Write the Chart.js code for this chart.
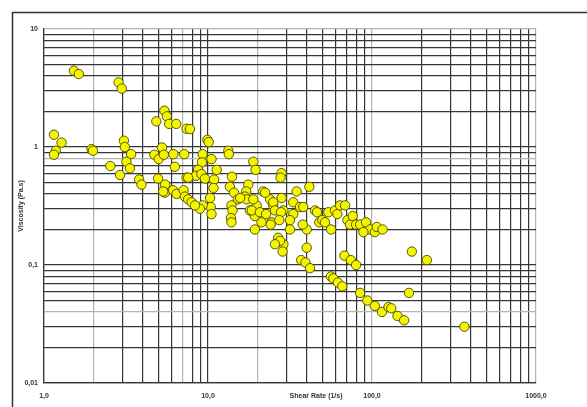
<!DOCTYPE html>
<html>
<head>
<meta charset="utf-8">
<script src="https://cdn.jsdelivr.net/npm/chart.js@4.4.1/dist/chart.umd.min.js"></script>
<style>
  html, body { margin: 0; padding: 0; background: #ffffff; }
  #wrap { position: relative; width: 587px; height: 407px; }
  canvas { display: block; }
</style>
</head>
<body>
<div id="wrap"><canvas id="c" width="587" height="407"></canvas></div>
<script>
// ---- Data ----
const shearRate = [
  1.52, 1.63, 2.85, 2.98, 5.42, 5.61, 4.84, 5.80, 6.40, 7.40, 7.76,
  1.15, 1.28, 1.18, 1.15, 1.95, 1.99, 3.07, 3.11, 3.40, 3.18, 3.34,
  2.54, 2.91, 3.80, 3.93, 5.25, 4.71, 5.01, 5.38, 6.15, 6.28, 7.16,
  4.96, 5.48, 7.40, 9.92, 10.1, 9.27, 10.5, 9.18, 8.71, 11.3, 8.44,
  9.11, 9.57, 7.57, 10.9, 10.8, 10.3, 10.4, 10.5, 9.27, 8.92, 13.3,
  13.4, 18.9, 19.5, 5.46, 6.13, 6.43, 7.10, 7.23, 7.57, 7.94, 8.32,
  5.33, 14.0, 13.6, 14.4, 15.2, 13.9, 14.1, 13.8, 13.9, 17.6, 17.1,
  16.8, 17.2, 18.0, 19.3, 19.8, 15.7, 18.9, 21.7, 18.5, 19.3, 20.7,
  23.9, 25.0, 24.4, 26.8, 28.8, 28.1, 27.7, 34.7, 33.1, 33.1, 28.1,
  28.8, 31.6, 31.6, 41.5, 22.3, 25.0, 22.6, 25.6, 27.9, 27.2, 24.1,
  21.2, 36.4, 38.1, 40.0, 45.0, 46.2, 47.7, 49.8, 51.7, 54.2, 56.3,
  59.5, 61.5, 63.9, 68.5, 70.8, 73.5, 76.3, 80.0, 84.6, 92.0, 97.4,
  104, 107, 116, 40.0, 27.5, 25.6, 28.5, 67.9, 74.3, 80.0, 37.0,
  39.3, 41.9, 56.1, 58.1, 61.9, 65.9, 84.6, 93.7, 104, 115, 126,
  131, 143, 157, 168, 175, 216, 366, 37.8, 88.6
];
const viscosity = [
  4.43, 4.15, 3.52, 3.13, 2.03, 1.82, 1.65, 1.57, 1.57, 1.43, 1.42,
  1.27, 1.09, 0.93, 0.86, 0.96, 0.93, 1.13, 1.00, 0.87, 0.75, 0.66,
  0.69, 0.58, 0.53, 0.48, 0.99, 0.86, 0.79, 0.86, 0.87, 0.68, 0.87,
  0.54, 0.48, 0.55, 1.15, 1.10, 0.87, 0.79, 0.74, 0.64, 0.64, 0.57,
  0.59, 0.54, 0.55, 0.53, 0.45, 0.37, 0.31, 0.27, 0.32, 0.30, 0.93,
  0.87, 0.75, 0.64, 0.41, 0.43, 0.40, 0.43, 0.38, 0.36, 0.34, 0.32,
  0.42, 0.56, 0.46, 0.41, 0.36, 0.32, 0.29, 0.25, 0.23, 0.48, 0.42,
  0.38, 0.36, 0.29, 0.26, 0.32, 0.37, 0.36, 0.42, 0.29, 0.20, 0.28,
  0.36, 0.32, 0.23, 0.17, 0.15, 0.60, 0.55, 0.42, 0.34, 0.27, 0.37,
  0.29, 0.24, 0.20, 0.46, 0.41, 0.34, 0.27, 0.29, 0.28, 0.24, 0.22,
  0.23, 0.31, 0.31, 0.20, 0.29, 0.28, 0.23, 0.24, 0.23, 0.28, 0.20,
  0.29, 0.27, 0.32, 0.32, 0.24, 0.22, 0.26, 0.22, 0.22, 0.23, 0.20,
  0.19, 0.21, 0.20, 0.14, 0.16, 0.15, 0.13, 0.12, 0.11, 0.10, 0.11,
  0.105, 0.094, 0.080, 0.077, 0.071, 0.066, 0.058, 0.050, 0.045, 0.040, 0.044,
  0.043, 0.037, 0.034, 0.058, 0.13, 0.11, 0.030, 0.22, 0.19
];

// Axis tick labels (comma decimals as in the reference)
const xTickValues = [1, 10, 100, 1000];
const xTickLabels = ['1,0', '10,0', '100,0', '1000,0'];
const yTickValues = [0.01, 0.1, 1, 10];
const yTickLabels = ['0,01', '0,1', '1', '10'];

const xTitle = 'Shear Rate (1/s)';
const yTitle = 'Viscosity (Pa.s)';

// ---- helpers (scale configuration, not data) ----
function logGrid(decades) {
  const out = [];
  for (let i = 0; i < decades.length - 1; i++) {
    for (let m = 1; m <= 9; m++) out.push(m * decades[i]);
  }
  out.push(decades[decades.length - 1]);
  return out;
}
function near(a, b) { return Math.abs(Math.log10(a) - Math.log10(b)) < 1e-6; }
function labelFor(v, vals, labels) {
  for (let i = 0; i < vals.length; i++) if (near(v, vals[i])) return labels[i];
  return '';
}
const DARK = '#363636';
const LIGHT = '#b4b4b4';
const xLight = [2, 7, 20, 100, 1000];
const yLight = [10, 0.8, 0.04];
function gridColor(lightList) {
  return (ctx) => {
    const v = ctx.tick ? ctx.tick.value : null;
    if (v == null) return DARK;
    for (const l of lightList) if (near(v, l)) return LIGHT;
    return DARK;
  };
}

const points = shearRate.map((x, i) => ({ x: x, y: viscosity[i] }));

const FONT = { family: '"Liberation Sans", Arial, sans-serif', size: 7, weight: 'bold' };

const framePlugin = {
  id: 'frame',
  beforeDraw(chart) {
    const c = chart.ctx;
    c.save();
    c.fillStyle = '#ffffff';
    c.fillRect(0, 0, chart.width, chart.height);
    c.strokeStyle = '#333333';
    c.lineWidth = 1.5;
    c.beginPath();
    c.moveTo(12.5, chart.height);
    c.lineTo(12.5, 12.5);
    c.lineTo(chart.width, 12.5);
    c.stroke();
    c.restore();
  },
  afterDraw(chart) {
    const a = chart.chartArea;
    const c = chart.ctx;
    c.save();
    c.fillStyle = '#333333';
    c.font = 'bold 7px "Liberation Sans", Arial, sans-serif';
    c.textAlign = 'center';
    c.textBaseline = 'middle';
    c.fillText(xTitle, a.left + (a.right - a.left) * 0.553, a.bottom + 13.5);
    c.translate(21, (a.top + a.bottom) / 2);
    c.rotate(-Math.PI / 2);
    c.fillText(yTitle, 0, 0);
    c.restore();
  }
};

new Chart(document.getElementById('c'), {
  type: 'scatter',
  data: {
    datasets: [{
      data: points,
      backgroundColor: '#f5f500',
      borderColor: 'rgba(80,80,0,0.95)',
      borderWidth: 1,
      pointRadius: 4.7,
      pointHoverRadius: 4.7
    }]
  },
  options: {
    responsive: false,
    animation: false,
    devicePixelRatio: 1,
    layout: { padding: { left: 0, top: 29, right: 51, bottom: 0 } },
    plugins: { legend: { display: false }, tooltip: { enabled: false } },
    scales: {
      x: {
        type: 'logarithmic',
        min: 1, max: 1000,
        afterBuildTicks: (s) => { s.ticks = logGrid(xTickValues).map(v => ({ value: v })); },
        afterFit: (s) => { s.height = 24; },
        ticks: {
          autoSkip: false, maxRotation: 0, minRotation: 0,
          padding: 9, color: '#333333', font: FONT,
          callback: (v) => labelFor(v, xTickValues, xTickLabels)
        },
        grid: { color: gridColor(xLight), lineWidth: 1.2, drawTicks: false },
        border: { color: DARK, width: 1.2 }
      },
      y: {
        type: 'logarithmic',
        min: 0.01, max: 10,
        afterBuildTicks: (s) => { s.ticks = logGrid(yTickValues).map(v => ({ value: v })); },
        afterFit: (s) => { s.width = 44; },
        ticks: {
          autoSkip: false, padding: 6, color: '#333333', font: FONT,
          callback: (v) => labelFor(v, yTickValues, yTickLabels)
        },
        grid: { color: gridColor(yLight), lineWidth: 1.2, drawTicks: false },
        border: { color: DARK, width: 1.2 }
      }
    }
  },
  plugins: [framePlugin]
});
</script>
</body>
</html>
